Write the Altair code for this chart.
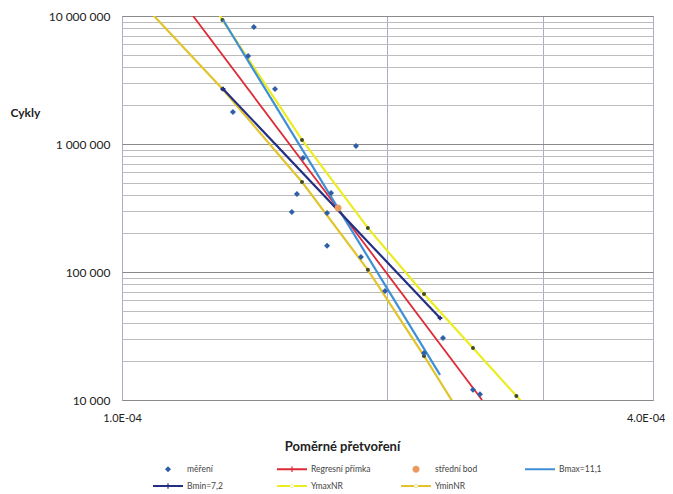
import altair as alt
import pandas as pd

# ---------------- data ----------------
# legend order (filled column by column, two rows)
NAMES = ["měření", "Bmin=7,2", "Regresní přímka", "YmaxNR",
         "střední bod", "YminNR", "Bmax=11,1"]
COLORS = ["#2f5fa6", "#232f82", "#de2a36", "#ecec22",
          "#ec9a5c", "#e2c42e", "#3f8fd6"]

MEAS_X = [1.411e-4, 1.390e-4, 1.491e-4, 1.336e-4, 1.842e-4, 1.604e-4,
          1.579e-4, 1.726e-4, 1.558e-4, 1.708e-4, 1.708e-4, 1.866e-4,
          1.987e-4, 2.200e-4, 2.312e-4, 2.500e-4, 2.546e-4]
MEAS_Y = [8.20e6, 4.87e6, 2.69e6, 1.78e6, 9.64e5, 7.78e5,
          4.07e5, 4.14e5, 2.94e5, 2.89e5, 1.60e5, 1.31e5,
          7.11e4, 2.33e4, 3.05e4, 1.20e4, 1.11e4]

CENTER_X = [1.758e-4]
CENTER_Y = [3.16e5]

REG_X = [1.204e-4, 2.560e-4]
REG_Y = [1.0e7, 1.0e4]

BMAX_X = [1.302e-4, 2.294e-4]
BMAX_Y = [9.3e6, 1.57e4]

BMIN_X = [1.302e-4, 2.294e-4]
BMIN_Y = [2.69e6, 4.37e4]

YMAX_X = [1.0e-4, 1.3e-4, 1.6e-4, 1.9e-4, 2.2e-4, 2.5e-4, 2.8e-4, 3.1e-4]
YMAX_Y = [1.72e8, 9.3e6, 1.075e6, 2.21e5, 6.73e4, 2.55e4, 1.075e4, 4.95e3]

YMIN_X = [1.0e-4, 1.3e-4, 1.6e-4, 1.9e-4, 2.2e-4, 2.5e-4]
YMIN_Y = [1.85e7, 2.69e6, 5.05e5, 1.04e5, 2.21e4, 5.4e3]

X_GRID = [1e-4, 2e-4, 3e-4, 4e-4]
X_LABELED = [1e-4, 4e-4]
Y_GRID = [m * 10 ** e for e in (4, 5, 6) for m in range(1, 10)] + [1e7]
Y_LABELED = [1e4, 1e5, 1e6, 1e7]

# ---------------- symbol shapes (custom paths) ----------------
LINE = "M-3,-0.2H3V0.2H-3Z"
TICK = " M-0.12,-0.55H0.12V0.55H-0.12Z"
DOT = " M-0.35,0A0.35,0.35 0 1,0 0.35,0A0.35,0.35 0 1,0 -0.35,0Z"
SHAPE_OF = {
    "měření": "M0,-0.6L0.6,0L0,0.6L-0.6,0Z",
    "Regresní přímka": LINE + TICK,
    "střední bod": "M-0.7,0A0.7,0.7 0 1,0 0.7,0A0.7,0.7 0 1,0 -0.7,0Z",
    "Bmax=11,1": LINE,
    "Bmin=7,2": LINE + TICK,
    "YmaxNR": LINE + DOT,
    "YminNR": LINE + DOT,
}
SHAPES = [SHAPE_OF[n] for n in NAMES]
COLOR_OF = dict(zip(NAMES, COLORS))

FONT = "Lato"


def frame(series, xs, ys):
    return pd.DataFrame({"series": series, "x": xs, "y": ys, "i": range(len(xs))})


points_df = pd.concat([frame("měření", MEAS_X, MEAS_Y),
                       frame("střední bod", CENTER_X, CENTER_Y)], ignore_index=True)

x_expr = "".join(f"abs(datum.value - {v}) < 1e-9 ? '{v:.1E}' : " for v in X_LABELED) + "''"
y_expr = "".join(
    f"abs(datum.value - {v}) < 1e-3 ? '{format(int(v), ',').replace(',', ' ')}' : "
    for v in Y_LABELED) + "''"

x_enc = alt.X(
    "x:Q",
    scale=alt.Scale(type="log", domain=[1e-4, 4e-4], nice=False),
    axis=alt.Axis(
        values=X_GRID, labelExpr=x_expr, title="Poměrné přetvoření",
        grid=True, gridColor="#a9aec2", gridWidth=1, ticks=False, domain=False,
        labelFlush=False, labelOverlap=False, labelPadding=12,
        labelFont=FONT, labelFontSize=11, labelColor="#222",
        labelAlign={"condition": {"test": "datum.value > 3.5e-4", "value": "right"},
                    "value": "center"},
        labelOffset={"condition": {"test": "datum.value > 3.5e-4", "value": 12},
                     "value": 0},
        titleFont=FONT, titleFontSize=13, titleFontWeight="bold", titleColor="#222",
        titleX=220, titleY=46, titleAnchor="middle", titleAlign="center",
        titleBaseline="middle",
    ),
)
y_enc = alt.Y(
    "y:Q",
    scale=alt.Scale(type="log", domain=[1e4, 1e7], nice=False),
    axis=alt.Axis(
        values=Y_GRID, labelExpr=y_expr, title="Cykly",
        grid=True,
        gridColor={"condition": {"test": "indexof([10000,100000,1000000,10000000], datum.value) >= 0",
                                 "value": "#8a8a8a"},
                   "value": "#bcbcbc"},
        gridWidth=1, ticks=False, domain=False,
        labelFlush=False, labelOverlap=False, labelPadding=12,
        labelFont=FONT, labelFontSize=12, labelColor="#222",
        titleFont=FONT, titleFontSize=12, titleFontWeight="bold", titleColor="#222",
        titleAngle=0, titleX=-112, titleY=96, titleAlign="left", titleBaseline="middle",
    ),
)


def line_layer(name, xs, ys, width=2.2, marker=None):
    kwargs = dict(strokeWidth=width, clip=True, color=COLOR_OF[name])
    if marker is not None:
        kwargs["point"] = marker
    return alt.Chart(frame(name, xs, ys)).mark_line(**kwargs).encode(
        x=x_enc, y=y_enc, order="i:Q")


nr_marker = alt.OverlayMarkDef(filled=True, size=16, color="#3d4a2a", clip=True)
ymin_layer = line_layer("YminNR", YMIN_X, YMIN_Y, marker=nr_marker)
ymax_layer = line_layer("YmaxNR", YMAX_X, YMAX_Y, marker=nr_marker)
reg_layer = line_layer("Regresní přímka", REG_X, REG_Y, width=1.8)
bmax_layer = line_layer("Bmax=11,1", BMAX_X, BMAX_Y)
bmin_layer = line_layer(
    "Bmin=7,2", BMIN_X, BMIN_Y,
    marker=alt.OverlayMarkDef(shape="cross", size=22, color=COLOR_OF["Bmin=7,2"], clip=True))

legend = alt.Legend(
    orient="none", legendX=41, legendY=448, columns=4, title=None,
    labelFont=FONT, labelFontSize=8.5, labelColor="#444",
    symbolSize=100, symbolStrokeWidth=0, labelOffset=14,
    columnPadding=30, rowPadding=7, gridAlign="all", labelLimit=200,
)

points_layer = alt.Chart(points_df).mark_point(
    filled=True, size=100, opacity=1, strokeWidth=0, clip=True
).encode(
    x=x_enc, y=y_enc,
    color=alt.Color("series:N", scale=alt.Scale(domain=NAMES, range=COLORS), legend=legend),
    shape=alt.Shape("series:N", scale=alt.Scale(domain=NAMES, range=SHAPES), legend=legend),
)

chart = alt.layer(ymin_layer, ymax_layer, reg_layer, bmax_layer, bmin_layer,
                  points_layer).properties(
    width=531, height=384,
    padding={"left": 2, "top": 2, "right": 0, "bottom": 2},
    background="white",
).configure_view(stroke="#8f8f8f", strokeWidth=1)

chart.save("out.html", embed_options={"renderer": "svg", "actions": False})
